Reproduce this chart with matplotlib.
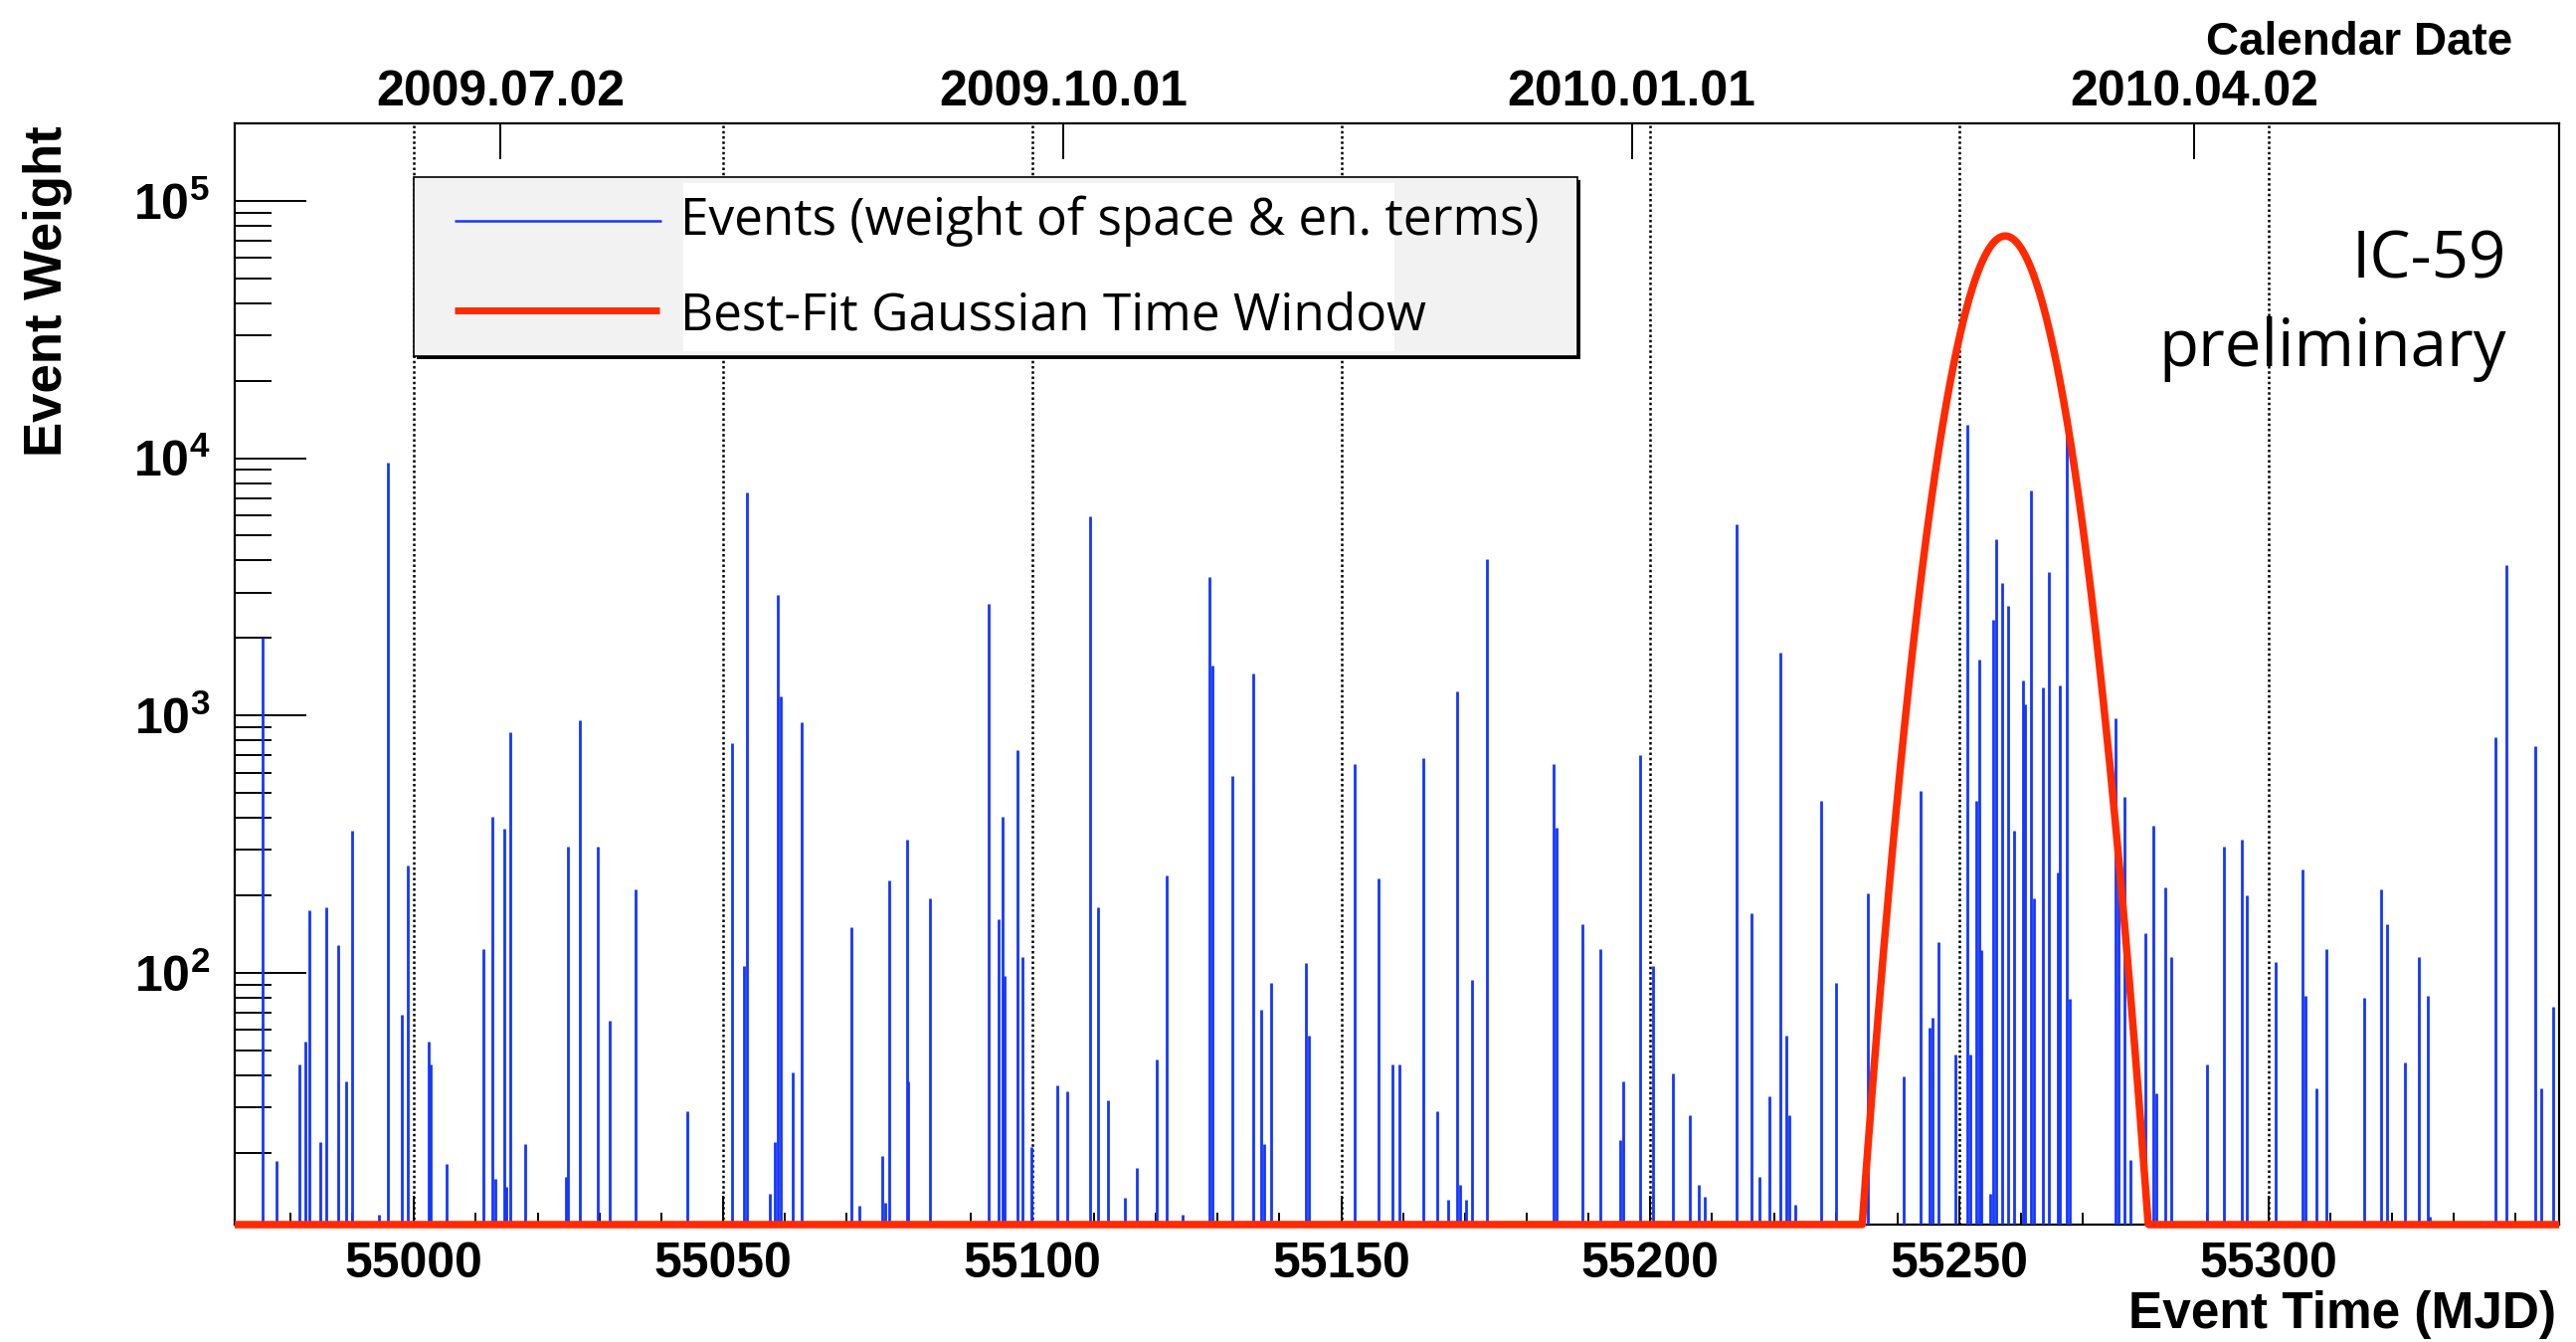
import datetime as dt
import numpy as np
import matplotlib
matplotlib.use("Agg")
import matplotlib.pyplot as plt
from matplotlib.patches import Rectangle
from matplotlib.ticker import FixedLocator, MultipleLocator, NullFormatter, NullLocator, FuncFormatter

# ---------------- data ----------------
event_mjd = [
    54975.5, 54977.8, 54981.5, 54982.4, 54983.0, 54984.9, 54985.8, 54987.7, 54989.1, 54990.0,
    54994.3, 54995.8, 54998.0, 54999.0, 55002.3, 55002.7, 55005.2, 55011.3, 55012.7, 55013.1,
    55014.6, 55015.0, 55015.5, 55017.9, 55024.5, 55024.9, 55026.9, 55029.7, 55031.6, 55035.8,
    55044.2, 55051.4, 55053.3, 55053.8, 55057.5, 55058.4, 55058.9, 55059.3, 55061.3, 55062.7,
    55070.7, 55072.1, 55075.8, 55076.3, 55076.8, 55079.7, 55080.0, 55083.4, 55092.9, 55094.6,
    55095.2, 55095.6, 55097.6, 55098.5, 55099.9, 55104.1, 55105.6, 55109.4, 55110.7, 55112.2,
    55115.0, 55116.9, 55120.2, 55121.7, 55124.4, 55128.7, 55129.2, 55132.4, 55135.7, 55137.1,
    55137.6, 55138.6, 55144.3, 55144.7, 55152.2, 55156.0, 55158.3, 55159.4, 55163.2, 55165.5,
    55167.3, 55168.8, 55169.2, 55170.2, 55171.1, 55173.5, 55184.4, 55184.8, 55189.0, 55191.9,
    55195.1, 55195.6, 55198.4, 55200.4, 55203.6, 55206.4, 55207.9, 55208.8, 55214.0, 55216.3,
    55217.7, 55219.2, 55221.1, 55222.0, 55222.4, 55223.4, 55227.6, 55230.0, 55235.2, 55240.9,
    55243.7, 55245.1, 55245.6, 55246.6, 55249.4, 55251.3, 55251.7, 55252.7, 55253.2, 55253.5,
    55255.0, 55255.5, 55256.0, 55256.9, 55257.8, 55258.8, 55260.2, 55260.6, 55261.6, 55262.1,
    55263.5, 55264.5, 55265.9, 55266.3, 55267.4, 55267.8, 55275.3, 55275.7, 55276.7, 55277.6,
    55280.1, 55281.4, 55281.9, 55283.3, 55284.3, 55290.0, 55292.7, 55295.6, 55296.5, 55301.2,
    55305.5, 55305.9, 55307.8, 55309.3, 55315.5, 55318.2, 55319.1, 55322.0, 55324.3, 55325.8,
    55326.1, 55336.7, 55338.5, 55343.1, 55344.1, 55346.0,
]
event_weight = [
    2010, 18.5, 44, 54, 175, 22, 180, 128, 38, 356,
    11.5, 9570, 69, 261, 54, 44, 18, 124, 403, 15.8,
    362, 14.7, 861, 21.5, 16.1, 310, 957, 310, 65, 210,
    29, 780, 106, 7380, 13.8, 22, 2950, 1190, 41, 940,
    150, 12.4, 19.4, 12.8, 228, 328, 38, 195, 2710, 162,
    403, 97, 734, 115, 21, 36.5, 34.5, 5940, 180, 32,
    13.4, 17.5, 46, 238, 11.5, 3450, 1570, 583, 1450, 72,
    21.5, 91, 109, 57, 649, 233, 44, 44, 681, 29,
    13.1, 1240, 15, 13.1, 94, 4050, 649, 367, 154, 124,
    22.4, 38, 703, 106, 40.5, 28, 15, 13.5, 5520, 171,
    16.1, 33, 1750, 57, 28, 12.6, 464, 91, 204, 39.5,
    509, 61, 67, 131, 48, 13460, 48, 464, 1650, 122,
    13.8, 2350, 4840, 3260, 2660, 356, 1370, 1100, 7520, 195,
    1280, 3620, 245, 1310, 12880, 79, 975, 314, 484, 18.8,
    142, 374, 34, 214, 115, 44, 310, 328, 200, 110,
    253, 81, 35.6, 124, 80, 210, 154, 45, 115, 81,
    11.3, 820, 3850, 762, 35.6, 74,
]

# best-fit Gaussian time window (parameters)
gauss_amplitude = 7.3e4
gauss_mean = 55257.4
gauss_sigma = 5.5

x_major_ticks = [55000, 55050, 55100, 55150, 55200, 55250, 55300]
calendar_labels = ["2009.07.02", "2009.10.01", "2010.01.01", "2010.04.02"]
y_decades = [2, 3, 4, 5]

x_range = (54971.0, 55347.0)
y_range = (10.5, 2.0e5)

legend_labels = ["Events (weight of space & en. terms)", "Best-Fit Gaussian Time Window"]
note_lines = ["IC-59", "preliminary"]

# ---------------- style ----------------
BLUE = "#1436ff"
RED = "#ff2a00"
plt.rcParams["font.family"] = ["Liberation Sans", "DejaVu Sans"]
plt.rcParams["mathtext.fontset"] = "custom"
plt.rcParams["mathtext.rm"] = "Liberation Sans"
plt.rcParams["mathtext.bf"] = "Liberation Sans:bold"

W, H = 2590, 1349
fig = plt.figure(figsize=(W / 100, H / 100), dpi=100)
fig.patch.set_facecolor("white")


def fx(X):
    return X / W


def fy(Y):
    return 1 - Y / H


L, R, T, B = 236, 2573, 124, 1231
ax = fig.add_axes([fx(L), fy(B), (R - L) / W, (B - T) / H])
ax.set_yscale("log")
ax.set_xlim(*x_range)
ax.set_ylim(*y_range)

# events
ax.vlines(event_mjd, 1.0, event_weight, colors=BLUE, linewidth=2.0, zorder=3)

# gaussian window
xs = np.linspace(x_range[0], x_range[1], 4000)
gs = gauss_amplitude * np.exp(-0.5 * ((xs - gauss_mean) / gauss_sigma) ** 2)
gs = np.maximum(gs, y_range[0])
ax.plot(xs, gs, color=RED, lw=5.4, zorder=4, clip_on=False, solid_capstyle="butt")

# grid
ax.xaxis.set_major_locator(FixedLocator(x_major_ticks))
ax.xaxis.set_minor_locator(MultipleLocator(10))
ax.grid(True, axis="x", which="major", color="black", linestyle=(0, (1.0, 1.1)), linewidth=1.8)
ax.set_axisbelow(True)

# y ticks
ax.yaxis.set_major_locator(FixedLocator([10.0 ** k for k in y_decades]))
ax.yaxis.set_major_formatter(FuncFormatter(lambda v, p: r"$\mathbf{10^{%d}}$" % int(round(np.log10(v)))))
minor_y = [m * 10.0 ** k for k in range(1, 5) for m in range(2, 10)]
ax.yaxis.set_minor_locator(FixedLocator(minor_y))
ax.yaxis.set_minor_formatter(NullFormatter())

ax.tick_params(axis="x", which="major", direction="in", length=21, width=1.4, labelsize=36,
               pad=12, top=False, bottom=True)
ax.tick_params(axis="x", which="minor", direction="in", length=8.6, width=1.4, top=False)
ax.tick_params(axis="y", which="major", direction="in", length=52, width=1.4, labelsize=36,
               pad=18, right=False)
ax.tick_params(axis="y", which="minor", direction="in", length=26.6, width=1.4, right=False)
for lbl in ax.get_xticklabels():
    lbl.set_fontweight("bold")
for sp in ax.spines.values():
    sp.set_linewidth(1.6)
    sp.set_color("black")

# top calendar axis
epoch = dt.date(1858, 11, 17)
calendar_mjd = [(dt.datetime.strptime(s, "%Y.%m.%d").date() - epoch).days for s in calendar_labels]
ax2 = ax.twiny()
ax2.set_xlim(*x_range)
ax2.xaxis.set_major_locator(FixedLocator(calendar_mjd))
ax2.xaxis.set_minor_locator(NullLocator())
ax2.set_xticklabels(calendar_labels, fontweight="bold")
ax2.tick_params(axis="x", which="major", direction="in", length=26, width=1.4, labelsize=36,
                pad=5.5, top=True, bottom=False, labeltop=True, labelbottom=False)
for sp in ax2.spines.values():
    sp.set_visible(False)

# axis titles
fig.text(fx(2570), fy(1322), "Event Time (MJD)", ha="right", va="center", fontsize=37,
         fontweight="bold")
fig.text(fx(2526), fy(43), "Calendar Date", ha="right", va="center", fontsize=33,
         fontweight="bold")
fig.text(fx(48), fy(126), "Event Weight", rotation=90, ha="center", va="top", fontsize=38,
         fontweight="bold")

# overlay in pixel coordinates for legend + notes
ov = fig.add_axes([0, 0, 1, 1], zorder=10)
ov.set_xlim(0, W)
ov.set_ylim(H, 0)
ov.axis("off")
ov.patch.set_alpha(0)

ov.add_patch(Rectangle((419, 181), 1170, 180, facecolor="black", edgecolor="none"))
ov.add_patch(Rectangle((416, 178), 1170, 180, facecolor="#f2f2f2", edgecolor="black", lw=1.2))
ov.add_patch(Rectangle((687, 184), 715, 169, facecolor="white", edgecolor="none"))
ov.plot([457, 665], [222, 222], color=BLUE, lw=1.8, solid_capstyle="butt")
ov.plot([457, 663], [312, 312], color=RED, lw=5, solid_capstyle="butt")
t1 = ov.text(684, 236, legend_labels[0], family="Open Sans", fontsize=34, va="baseline", ha="left")
t2 = ov.text(684, 331, legend_labels[1], family="Open Sans", fontsize=34, va="baseline", ha="left")

n1 = ov.text(2520, 279, note_lines[0], family="Open Sans", fontsize=47, va="baseline", ha="right")
n2 = ov.text(2520, 368, note_lines[1], family="Open Sans", fontsize=47, va="baseline", ha="right")

# fit text sizes to the measured widths in the reference
fig.canvas.draw()
rend = fig.canvas.get_renderer()


def scale_for(t, target):
    return target / t.get_window_extent(rend).width


s_leg = 0.5 * (scale_for(t1, 868) + scale_for(t2, 749))
for t in (t1, t2):
    t.set_fontsize(t.get_fontsize() * s_leg)
s_note = 0.5 * (scale_for(n1, 155) + scale_for(n2, 351))
for t in (n1, n2):
    t.set_fontsize(t.get_fontsize() * s_note)

fig.savefig("out.png", dpi=100, facecolor="white")
